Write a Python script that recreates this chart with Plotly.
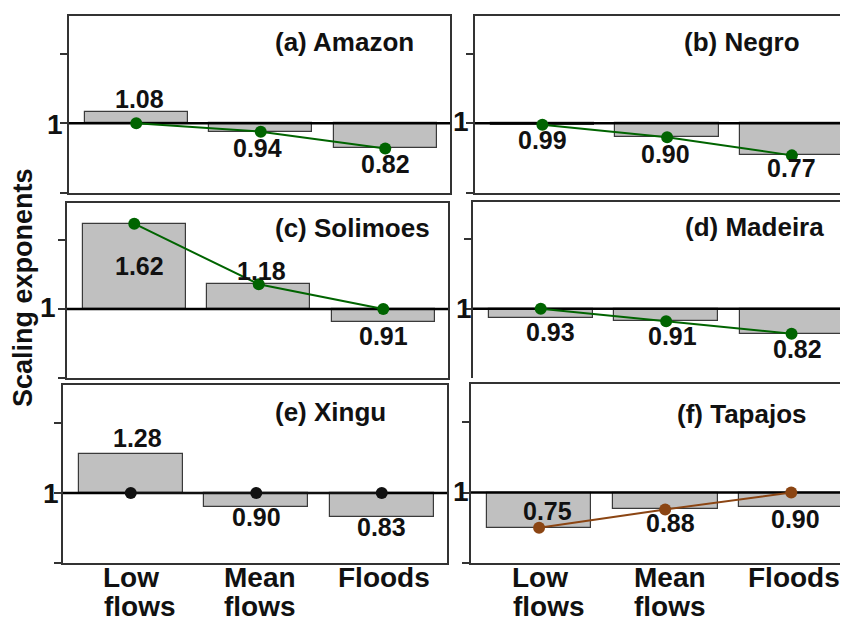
import plotly.graph_objects as go

# ---------------- data ----------------
categories = ["Low<br>flows", "Mean<br>flows", "Floods"]
panel_titles = ["(a) Amazon", "(b) Negro", "(c) Solimoes",
                "(d) Madeira", "(e) Xingu", "(f) Tapajos"]
y_tick_values = [0.5, 1.0, 1.5]
y_tick_labels = ["", "1", ""]

amazon_exp = [1.08, 0.94, 0.82]
negro_exp = [0.99, 0.90, 0.77]
solimoes_exp = [1.62, 1.18, 0.91]
madeira_exp = [0.93, 0.91, 0.82]
xingu_exp = [1.28, 0.90, 0.83]
tapajos_exp = [0.75, 0.88, 0.90]

amazon_line = [1.00, 0.94, 0.82]
negro_line = [0.99, 0.90, 0.77]
solimoes_line = [1.62, 1.18, 1.00]
madeira_line = [1.00, 0.91, 0.82]
xingu_line = [1.00, 1.00, 1.00]
tapajos_line = [0.75, 0.88, 1.00]

# ---------------- presentation ----------------
# the page body has an 8px margin, so the figure is drawn 8px in from the
# window corner; sizes/positions below are in window pixels
OFF = 8
W, H = 848 - OFF, 624 - OFF
FONT = "Liberation Sans"
GREEN = "#006400"
BROWN = "#8B4513"
BLACK = "#111111"


def px_x(px):
    return (px - OFF) / W


def px_y(py):
    return 1 - (py - OFF) / H


# label offsets (data units) relative to each value
amazon_lab_dy = [0.092, -0.119, -0.114]
negro_lab_dy = [-0.112, -0.119, -0.089]
solimoes_lab_dy = [-0.305, 0.099, -0.106]
madeira_lab_dy = [-0.10, -0.11, -0.113]
xingu_lab_dy = [0.113, -0.071, -0.073]
tapajos_lab_dy = [0.121, -0.098, -0.089]

amazon_lab_dx = [0.03, -0.03, 0.0]
negro_lab_dx = [0.0, -0.01, 0.0]
solimoes_lab_dx = [0.04, 0.02, 0.0]
madeira_lab_dx = [0.08, 0.05, 0.05]
xingu_lab_dx = [0.05, 0.0, 0.0]
tapajos_lab_dx = [0.07, 0.04, 0.03]

# per-line x shifts of the category labels (left / right column)
cat_dx_left = [[0.005, 0.07], [0.03, 0.03], [0.02]]
cat_dx_right = [[0.01, 0.075], [0.04, 0.04], [0.02]]
cat_line_py = [577, 606]

panels = [
    dict(vals=amazon_exp, line=amazon_line, col=GREEN, dy=amazon_lab_dy, dx=amazon_lab_dx,
         px=(69, 450), py=(16, 193), tpos=(273, 42), onepos=(55, 124), right=False, bottom=False),
    dict(vals=negro_exp, line=negro_line, col=GREEN, dy=negro_lab_dy, dx=negro_lab_dx,
         px=(475, 848), py=(16, 193), tpos=(682, 42), onepos=(461, 122), right=True, bottom=False),
    dict(vals=solimoes_exp, line=solimoes_line, col=GREEN, dy=solimoes_lab_dy, dx=solimoes_lab_dx,
         px=(67, 448), py=(203, 378), tpos=(273, 228), onepos=(47.5, 307.5), right=False, bottom=False),
    dict(vals=madeira_exp, line=madeira_line, col=GREEN, dy=madeira_lab_dy, dx=madeira_lab_dx,
         px=(473, 848), py=(202, 378), tpos=(683, 227), onepos=(464.5, 308.5), right=True, bottom=False),
    dict(vals=xingu_exp, line=xingu_line, col=BLACK, dy=xingu_lab_dy, dx=xingu_lab_dx,
         px=(63, 447), py=(385, 563), tpos=(273, 412), onepos=(51, 493), right=False, bottom=True),
    dict(vals=tapajos_exp, line=tapajos_line, col=BROWN, dy=tapajos_lab_dy, dx=tapajos_lab_dx,
         px=(471, 848), py=(384, 563), tpos=(675, 414), onepos=(461, 491.5), right=True, bottom=True),
]

YR = [0.5, 1.77]
XR_LEFT = [-0.54, 2.52]
XR_RIGHT = [-0.54, 2.45]
xpos = list(range(len(categories)))

fig = go.Figure()
annotations = []
layout_axes = {}

for i, p in enumerate(panels):
    n = "" if i == 0 else str(i + 1)
    xa, ya = "x" + n, "y" + n
    xr = XR_RIGHT if p["right"] else XR_LEFT

    fig.add_trace(go.Bar(
        x=xpos, y=[v - 1 for v in p["vals"]], base=1, width=0.83,
        marker=dict(color="#c0c0c0", line=dict(color="#3a3a3a", width=1.2)),
        xaxis=xa, yaxis=ya, showlegend=False, hoverinfo="skip"))
    # baseline at 1
    fig.add_trace(go.Scatter(
        x=xr, y=[1, 1], mode="lines", line=dict(color="black", width=2.5),
        xaxis=xa, yaxis=ya, showlegend=False, hoverinfo="skip"))
    fig.add_trace(go.Scatter(
        x=xpos, y=p["line"], mode="lines+markers",
        line=dict(color=p["col"], width=2), marker=dict(size=12, color=p["col"]),
        xaxis=xa, yaxis=ya, showlegend=False, hoverinfo="skip"))

    for k, v in enumerate(p["vals"]):
        annotations.append(dict(
            x=xpos[k] + p["dx"][k], y=v + p["dy"][k], xref=xa, yref=ya,
            text=f"{v:.2f}", showarrow=False, xanchor="center", yanchor="middle",
            font=dict(family=FONT, size=25, color=BLACK, weight="bold")))

    annotations.append(dict(
        x=px_x(p["tpos"][0]), y=px_y(p["tpos"][1]), xref="paper", yref="paper",
        text=panel_titles[i], showarrow=False, xanchor="left", yanchor="middle",
        font=dict(family=FONT, size=26, color=BLACK, weight="bold")))

    # the "1" tick label
    annotations.append(dict(
        x=px_x(p["onepos"][0]), y=px_y(p["onepos"][1]), xref="paper", yref="paper",
        text=y_tick_labels[1], showarrow=False, xanchor="center", yanchor="middle",
        font=dict(family=FONT, size=28, color=BLACK, weight="bold")))

    if p["bottom"]:
        cdx = cat_dx_right if p["right"] else cat_dx_left
        for k, cat in enumerate(categories):
            for j, part in enumerate(cat.split("<br>")):
                annotations.append(dict(
                    x=xpos[k] + cdx[k][j], y=px_y(cat_line_py[j]), xref=xa, yref="paper",
                    text=part, showarrow=False, xanchor="center", yanchor="middle",
                    font=dict(family=FONT, size=28, color=BLACK, weight="bold")))

    is_madeira = (i == 3)
    layout_axes["xaxis" + n] = dict(
        domain=[px_x(p["px"][0]), px_x(p["px"][1])], range=xr, anchor=ya,
        showline=True, linecolor="#333333", linewidth=1.5,
        mirror=not is_madeira, side="top" if is_madeira else "bottom",
        ticks="", showgrid=False, zeroline=False,
        tickvals=xpos, showticklabels=False,
        automargin=False, fixedrange=True)
    layout_axes["yaxis" + n] = dict(
        domain=[px_y(p["py"][1]), px_y(p["py"][0])], range=YR, anchor=xa,
        showline=True, linecolor="#333333", linewidth=1.5,
        mirror=not p["right"], ticks="outside", ticklen=7, tickwidth=1.5,
        tickcolor="#333333",
        tickvals=y_tick_values[1:] if is_madeira else y_tick_values,
        showticklabels=False,
        showgrid=False, zeroline=False, automargin=False, fixedrange=True)

annotations.append(dict(
    x=px_x(23), y=px_y(288), xref="paper", yref="paper", text="Scaling exponents",
    textangle=-90, showarrow=False, xanchor="center", yanchor="middle",
    font=dict(family=FONT, size=27, color=BLACK, weight="bold")))

fig.update_layout(
    template="none", width=W, height=H,
    margin=dict(l=0, r=0, t=0, b=0, pad=0),
    paper_bgcolor="white", plot_bgcolor="white",
    font=dict(family=FONT, color=BLACK),
    bargap=0, annotations=annotations, showlegend=False,
    **layout_axes)

fig.write_html("out.html")
